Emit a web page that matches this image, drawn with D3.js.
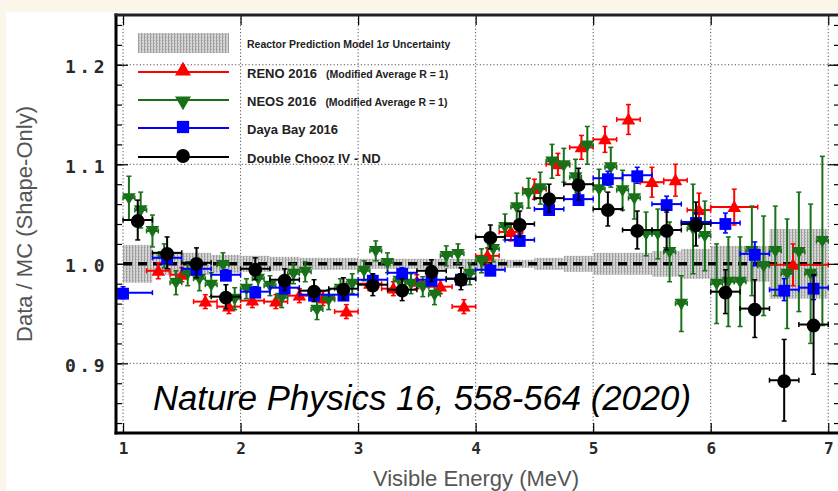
<!DOCTYPE html>
<html>
<head>
<meta charset="utf-8">
<script src="https://cdn.jsdelivr.net/npm/d3@7"></script>
<style>
  html, body { margin: 0; padding: 0; background: #fcf6ea; }
  svg { display: block; }
</style>
</head>
<body>
<svg id="chart" width="838" height="491"></svg>
<script>
// ---------------- DATA ----------------
const xTicks = [1, 2, 3, 4, 5, 6, 7];
const yTicks = [0.9, 1.0, 1.1, 1.2];
const yTickLabels = ["0.9", "1.0", "1.1", "1.2"];

// Reactor prediction 1-sigma band (step edges, half widths)
const bandEdges = [1.0, 1.25, 1.5, 1.75, 2.0, 2.25, 2.5, 3.0, 4.0, 4.25, 4.5, 4.75, 5.0, 5.25, 5.5, 5.75, 6.0, 6.5, 7.0];
const bandHalf  = [0.019, 0.011, 0.011, 0.009, 0.008, 0.007, 0.006, 0.005, 0.005, 0.004, 0.006, 0.008, 0.011, 0.011, 0.013, 0.015, 0.018, 0.035];

// RENO 2016
const renoE   = [1.3, 1.5, 1.7, 1.9, 2.1, 2.3, 2.5, 2.7, 2.9, 3.1, 3.3, 3.5, 3.7, 3.9, 4.1, 4.3, 4.5, 4.7, 4.9, 5.1, 5.3, 5.5, 5.7, 5.9, 6.2, 6.7];
const renoXErr= [0.1, 0.1, 0.1, 0.1, 0.1, 0.1, 0.1, 0.1, 0.1, 0.1, 0.1, 0.1, 0.1, 0.1, 0.1, 0.1, 0.1, 0.1, 0.1, 0.1, 0.1, 0.1, 0.1, 0.1, 0.2, 0.3];
const renoV   = [0.993, 0.989, 0.962, 0.957, 0.963, 0.962, 0.968, 0.965, 0.952, 0.980, 0.975, 0.982, 0.977, 0.957, 1.008, 1.032, 1.075, 1.100, 1.117, 1.125, 1.145, 1.082, 1.084, 1.054, 1.057, 0.999];
const renoErr = [0.008, 0.007, 0.007, 0.007, 0.007, 0.007, 0.007, 0.007, 0.007, 0.007, 0.007, 0.007, 0.007, 0.007, 0.008, 0.009, 0.010, 0.011, 0.012, 0.013, 0.015, 0.015, 0.016, 0.017, 0.018, 0.021];

// NEOS 2016
const neosE = [1.05, 1.15, 1.25, 1.35, 1.45, 1.55, 1.65, 1.75, 1.85, 1.95,
               2.05, 2.15, 2.25, 2.35, 2.45, 2.55, 2.65, 2.75, 2.85, 2.95,
               3.05, 3.15, 3.25, 3.35, 3.45, 3.55, 3.65, 3.75, 3.85, 3.95,
               4.05, 4.15, 4.25, 4.35, 4.45, 4.55, 4.65, 4.75, 4.85, 4.95,
               5.05, 5.15, 5.25, 5.35, 5.45, 5.55, 5.65, 5.75, 5.85, 5.95,
               6.05, 6.15, 6.25, 6.35, 6.45, 6.55, 6.65, 6.75, 6.85, 6.95];
const neosV = [1.066, 1.054, 1.033, 1.008, 0.981, 0.990, 0.985, 0.979, 0.999, 0.965,
               0.975, 0.985, 0.978, 0.966, 0.990, 0.992, 0.954, 0.964, 0.975, 0.980,
               0.993, 1.013, 1.001, 0.983, 0.980, 0.977, 0.969, 1.008, 1.010, 0.990,
               1.003, 1.015, 1.037, 1.057, 1.071, 1.076, 1.103, 1.099, 1.087, 1.119,
               1.075, 1.097, 1.074, 1.066, 1.030, 1.030, 1.012, 0.960, 1.035, 1.028,
               0.980, 0.982, 0.982, 1.013, 0.998, 1.013, 0.990, 1.012, 0.990, 1.023];
const neosErr = [0.022, 0.018, 0.016, 0.012, 0.012, 0.012, 0.012, 0.012, 0.012, 0.011,
                 0.010, 0.010, 0.010, 0.010, 0.010, 0.010, 0.010, 0.010, 0.010, 0.010,
                 0.010, 0.010, 0.010, 0.010, 0.010, 0.010, 0.010, 0.010, 0.010, 0.011,
                 0.012, 0.013, 0.013, 0.014, 0.015, 0.016, 0.017, 0.017, 0.018, 0.019,
                 0.020, 0.020, 0.020, 0.021, 0.022, 0.025, 0.030, 0.028, 0.045, 0.035,
                 0.040, 0.045, 0.045, 0.045, 0.050, 0.045, 0.055, 0.060, 0.070, 0.085];

// Daya Bay 2016
const dybE   = [1.0, 1.375, 1.625, 1.875, 2.125, 2.375, 2.625, 2.875, 3.125, 3.375, 3.625, 3.875, 4.125, 4.375, 4.625, 4.875, 5.125, 5.375, 5.625, 5.875, 6.125, 6.375, 6.625, 6.875];
const dybXErr= [0.25, 0.125, 0.125, 0.125, 0.125, 0.125, 0.125, 0.125, 0.125, 0.125, 0.125, 0.125, 0.125, 0.125, 0.125, 0.125, 0.125, 0.125, 0.125, 0.125, 0.125, 0.125, 0.125, 0.125];
const dybV   = [0.971, 1.006, 0.995, 0.989, 0.972, 0.976, 0.969, 0.969, 0.984, 0.991, 0.984, 0.985, 0.994, 1.024, 1.055, 1.065, 1.086, 1.089, 1.060, 1.042, 1.041, 1.010, 0.974, 0.976];
const dybErr = [0.006, 0.005, 0.005, 0.005, 0.005, 0.005, 0.005, 0.005, 0.005, 0.005, 0.005, 0.005, 0.005, 0.006, 0.006, 0.006, 0.007, 0.008, 0.008, 0.009, 0.010, 0.012, 0.011, 0.012];

// Double Chooz IV - ND
const dcE   = [1.125, 1.375, 1.625, 1.875, 2.125, 2.375, 2.625, 2.875, 3.125, 3.375, 3.625, 3.875, 4.125, 4.375, 4.625, 4.875, 5.125, 5.375, 5.625, 5.875, 6.125, 6.375, 6.625, 6.875];
const dcXErr= [0.125, 0.125, 0.125, 0.125, 0.125, 0.125, 0.125, 0.125, 0.125, 0.125, 0.125, 0.125, 0.125, 0.125, 0.125, 0.125, 0.125, 0.125, 0.125, 0.125, 0.125, 0.125, 0.125, 0.125];
const dcV   = [1.044, 1.011, 1.001, 0.967, 0.995, 0.984, 0.973, 0.975, 0.979, 0.974, 0.993, 0.985, 1.027, 1.040, 1.066, 1.080, 1.055, 1.034, 1.034, 1.040, 0.972, 0.955, 0.883, 0.939];
const dcErr = [0.020, 0.016, 0.015, 0.012, 0.011, 0.011, 0.011, 0.011, 0.011, 0.011, 0.011, 0.011, 0.012, 0.013, 0.014, 0.016, 0.017, 0.019, 0.020, 0.022, 0.022, 0.029, 0.041, 0.050];

const legendLabels = ["Reactor Prediction Model 1σ Uncertainty", "RENO 2016", "NEOS 2016", "Daya Bay 2016", "Double Chooz IV - ND"];
const legendNote = "(Modified Average R = 1)";
const xTitle = "Visible Energy (MeV)";
const yTitle = "Data / MC (Shape-Only)";
const citation = "Nature Physics 16, 558-564 (2020)";

// ---------------- LAYOUT ----------------
const L = 116, R = 840, T = 15, B = 433;
const svg = d3.select("#chart");
const x = d3.scaleLinear().domain([0.94, 7.10]).range([L, R]);
const y = d3.scaleLinear().domain([0.83, 1.25]).range([B, T]);

const defs = svg.append("defs");
const pat = defs.append("pattern").attr("id", "hatch").attr("patternUnits", "userSpaceOnUse")
  .attr("width", 3).attr("height", 3);
pat.append("rect").attr("width", 3).attr("height", 3).attr("fill", "#d4d4d4");
pat.append("rect").attr("x", 0).attr("width", 1).attr("height", 3).attr("fill", "#9e9e9e");
pat.append("rect").attr("x", 1).attr("y", 1).attr("width", 1).attr("height", 1).attr("fill", "#b2b2b2");
defs.append("clipPath").attr("id", "plotclip").append("rect")
  .attr("x", L).attr("y", T).attr("width", R - L).attr("height", B - T);

// white card
svg.append("rect").attr("x", 6).attr("y", 12).attr("width", 832).attr("height", 479).attr("fill", "#ffffff");

const plot = svg.append("g").attr("clip-path", "url(#plotclip)");

// grid
plot.selectAll(".vg").data(xTicks).enter().append("line")
  .attr("x1", d => x(d)).attr("x2", d => x(d)).attr("y1", T).attr("y2", B)
  .attr("stroke", "#555").attr("stroke-width", 1).attr("stroke-dasharray", "1.2,2.2");
plot.selectAll(".hg").data(yTicks.filter(d => d !== 1.0)).enter().append("line")
  .attr("x1", L).attr("x2", R).attr("y1", d => y(d)).attr("y2", d => y(d))
  .attr("stroke", "#555").attr("stroke-width", 1).attr("stroke-dasharray", "1.2,2.2");

// band
const bandData = bandHalf.map((h, i) => ({ x0: bandEdges[i], x1: bandEdges[i + 1], h }));
plot.selectAll(".band").data(bandData).enter().append("rect")
  .attr("x", d => x(d.x0)).attr("width", d => x(d.x1) - x(d.x0))
  .attr("y", d => y(1 + d.h)).attr("height", d => y(1 - d.h) - y(1 + d.h))
  .attr("fill", "url(#hatch)");

// dashed unity line
plot.append("line").attr("x1", x(1.0)).attr("x2", x(7.0)).attr("y1", y(1)).attr("y2", y(1))
  .attr("stroke", "#000").attr("stroke-width", 3.5).attr("stroke-dasharray", "9,6");

// series drawing
function drawSeries(E, XE, V, VE, color, symbolType, rot, size, cap) {
  const data = E.map((e, i) => ({ e, xe: Array.isArray(XE) ? XE[i] : XE, v: V[i], ve: VE[i] }));
  const g = plot.append("g");
  const grp = g.selectAll("g").data(data).enter().append("g");
  grp.append("line").attr("x1", d => x(d.e - d.xe)).attr("x2", d => x(d.e + d.xe))
    .attr("y1", d => y(d.v)).attr("y2", d => y(d.v)).attr("stroke", color).attr("stroke-width", 2);
  grp.append("line").attr("x1", d => x(d.e)).attr("x2", d => x(d.e))
    .attr("y1", d => y(d.v + d.ve)).attr("y2", d => y(d.v - d.ve)).attr("stroke", color).attr("stroke-width", 2);
  grp.append("line").attr("x1", d => x(d.e) - cap).attr("x2", d => x(d.e) + cap)
    .attr("y1", d => y(d.v + d.ve)).attr("y2", d => y(d.v + d.ve)).attr("stroke", color).attr("stroke-width", 1.5);
  grp.append("line").attr("x1", d => x(d.e) - cap).attr("x2", d => x(d.e) + cap)
    .attr("y1", d => y(d.v - d.ve)).attr("y2", d => y(d.v - d.ve)).attr("stroke", color).attr("stroke-width", 1.5);
  grp.append("line").attr("x1", d => x(d.e - d.xe)).attr("x2", d => x(d.e - d.xe))
    .attr("y1", d => y(d.v) - cap).attr("y2", d => y(d.v) + cap).attr("stroke", color).attr("stroke-width", 1.5);
  grp.append("line").attr("x1", d => x(d.e + d.xe)).attr("x2", d => x(d.e + d.xe))
    .attr("y1", d => y(d.v) - cap).attr("y2", d => y(d.v) + cap).attr("stroke", color).attr("stroke-width", 1.5);
  grp.append("path").attr("d", d3.symbol().type(symbolType).size(size)())
    .attr("transform", d => `translate(${x(d.e)},${y(d.v) + (rot ? -1 : 1)}) rotate(${rot})`)
    .attr("fill", color);
}

const RED = "#ff0000", GREEN = "#187118", BLUE = "#0000ff", BLACK = "#000000";
drawSeries(renoE, renoXErr, renoV, renoErr, RED, d3.symbolTriangle, 0, 80, 2.5);
drawSeries(neosE, 0.05, neosV, neosErr, GREEN, d3.symbolTriangle, 180, 80, 2.5);
drawSeries(dybE, dybXErr, dybV, dybErr, BLUE, d3.symbolSquare, 0, 140, 2.5);
drawSeries(dcE, dcXErr, dcV, dcErr, BLACK, d3.symbolCircle, 0, 150, 2.5);

// axes
const axG = svg.append("g");
const minorY = d3.range(0.84, 1.2501, 0.02).map(v => +v.toFixed(2));
axG.append("g").attr("transform", `translate(${L},0)`)
  .call(d3.axisLeft(y).tickValues(minorY).tickSize(-6).tickFormat(""))
  .call(g => g.select(".domain").remove());
axG.append("g").attr("transform", `translate(${R},0)`)
  .call(d3.axisRight(y).tickValues(minorY).tickSize(-6).tickFormat(""))
  .call(g => g.select(".domain").remove());
axG.append("g").attr("transform", `translate(${R},0)`)
  .call(d3.axisRight(y).tickValues(yTicks).tickSize(-12).tickFormat(""))
  .call(g => g.select(".domain").remove());
const yAx = axG.append("g").attr("transform", `translate(${L},0)`)
  .call(d3.axisLeft(y).tickValues(yTicks).tickSize(-12).tickPadding(8)
    .tickFormat((d, i) => yTickLabels[i]));
yAx.select(".domain").remove();
yAx.selectAll("text").attr("font-family", "DejaVu Sans Mono").attr("font-weight", "bold")
  .attr("font-size", 18).attr("fill", "#2a2a2a").attr("letter-spacing", 3.5).attr("dy", "0.45em");
axG.selectAll("line").attr("stroke", "#000").attr("stroke-width", 1.2);

const xAx = axG.append("g").attr("transform", `translate(0,${B})`)
  .call(d3.axisBottom(x).tickValues(xTicks).tickSize(-10).tickPadding(10).tickFormat(d3.format("d")));
xAx.select(".domain").remove();
xAx.selectAll("text").attr("font-family", "DejaVu Sans Mono").attr("font-weight", "bold")
  .attr("font-size", 16).attr("fill", "#2a2a2a");
xAx.selectAll("line").attr("stroke", "#000").attr("stroke-width", 1.2);
axG.append("g").attr("transform", `translate(0,${T})`)
  .call(d3.axisTop(x).tickValues(xTicks).tickSize(-10).tickFormat(""))
  .call(g => g.select(".domain").remove())
  .selectAll("line").attr("stroke", "#000").attr("stroke-width", 1.2);

// frame
svg.append("line").attr("x1", L).attr("x2", L).attr("y1", T - 1.5).attr("y2", B + 1.5).attr("stroke", "#000").attr("stroke-width", 3);
svg.append("line").attr("x1", L - 1.5).attr("x2", R).attr("y1", B).attr("y2", B).attr("stroke", "#000").attr("stroke-width", 3);
svg.append("line").attr("x1", L - 1.5).attr("x2", R).attr("y1", T).attr("y2", T).attr("stroke", "#222").attr("stroke-width", 3);

// legend
const lg = svg.append("g");
lg.append("rect").attr("x", 138).attr("y", 33).attr("width", 91).attr("height", 20).attr("fill", "url(#hatch)");
lg.append("text").attr("x", 247).attr("y", 48).text(legendLabels[0])
  .attr("font-family", "Liberation Sans, Arial").attr("font-weight", "bold").attr("font-size", 10.5).attr("fill", "#222");
const legRows = [
  { y: 72, color: RED, sym: d3.symbolTriangle, rot: 0, size: 110, label: legendLabels[1], note: true },
  { y: 100, color: GREEN, sym: d3.symbolTriangle, rot: 180, size: 110, label: legendLabels[2], note: true },
  { y: 128, color: BLUE, sym: d3.symbolSquare, rot: 0, size: 150, label: legendLabels[3], note: false },
  { y: 157, color: BLACK, sym: d3.symbolCircle, rot: 0, size: 150, label: legendLabels[4], note: false }
];
legRows.forEach(r => {
  lg.append("line").attr("x1", 138).attr("x2", 229).attr("y1", r.y).attr("y2", r.y).attr("stroke", r.color).attr("stroke-width", 2);
  lg.append("path").attr("d", d3.symbol().type(r.sym).size(r.size)())
    .attr("transform", `translate(183,${r.y + (r.rot ? 1 : -1)}) rotate(${r.rot})`).attr("fill", r.color);
  const t = lg.append("text").attr("x", 247).attr("y", r.y + 6)
    .attr("font-family", "Liberation Sans, Arial").attr("font-weight", "bold").attr("font-size", 13).attr("fill", "#222");
  t.append("tspan").text(r.label);
  if (r.note) t.append("tspan").attr("dx", 9).attr("font-size", 10.5).text(legendNote);
});

// titles
svg.append("text").attr("x", 476).attr("y", 486).attr("text-anchor", "middle").text(xTitle)
  .attr("font-family", "Liberation Sans, Arial").attr("font-size", 22).attr("fill", "#555");
svg.append("text").attr("transform", "translate(32,224) rotate(-90)").attr("text-anchor", "middle").text(yTitle)
  .attr("font-family", "Liberation Sans, Arial").attr("font-size", 22).attr("fill", "#555");

// citation
svg.append("text").attr("x", 153).attr("y", 410).text(citation)
  .attr("font-family", "Liberation Sans, Arial").attr("font-style", "italic").attr("font-size", 34.7).attr("fill", "#000");
</script>
</body>
</html>
